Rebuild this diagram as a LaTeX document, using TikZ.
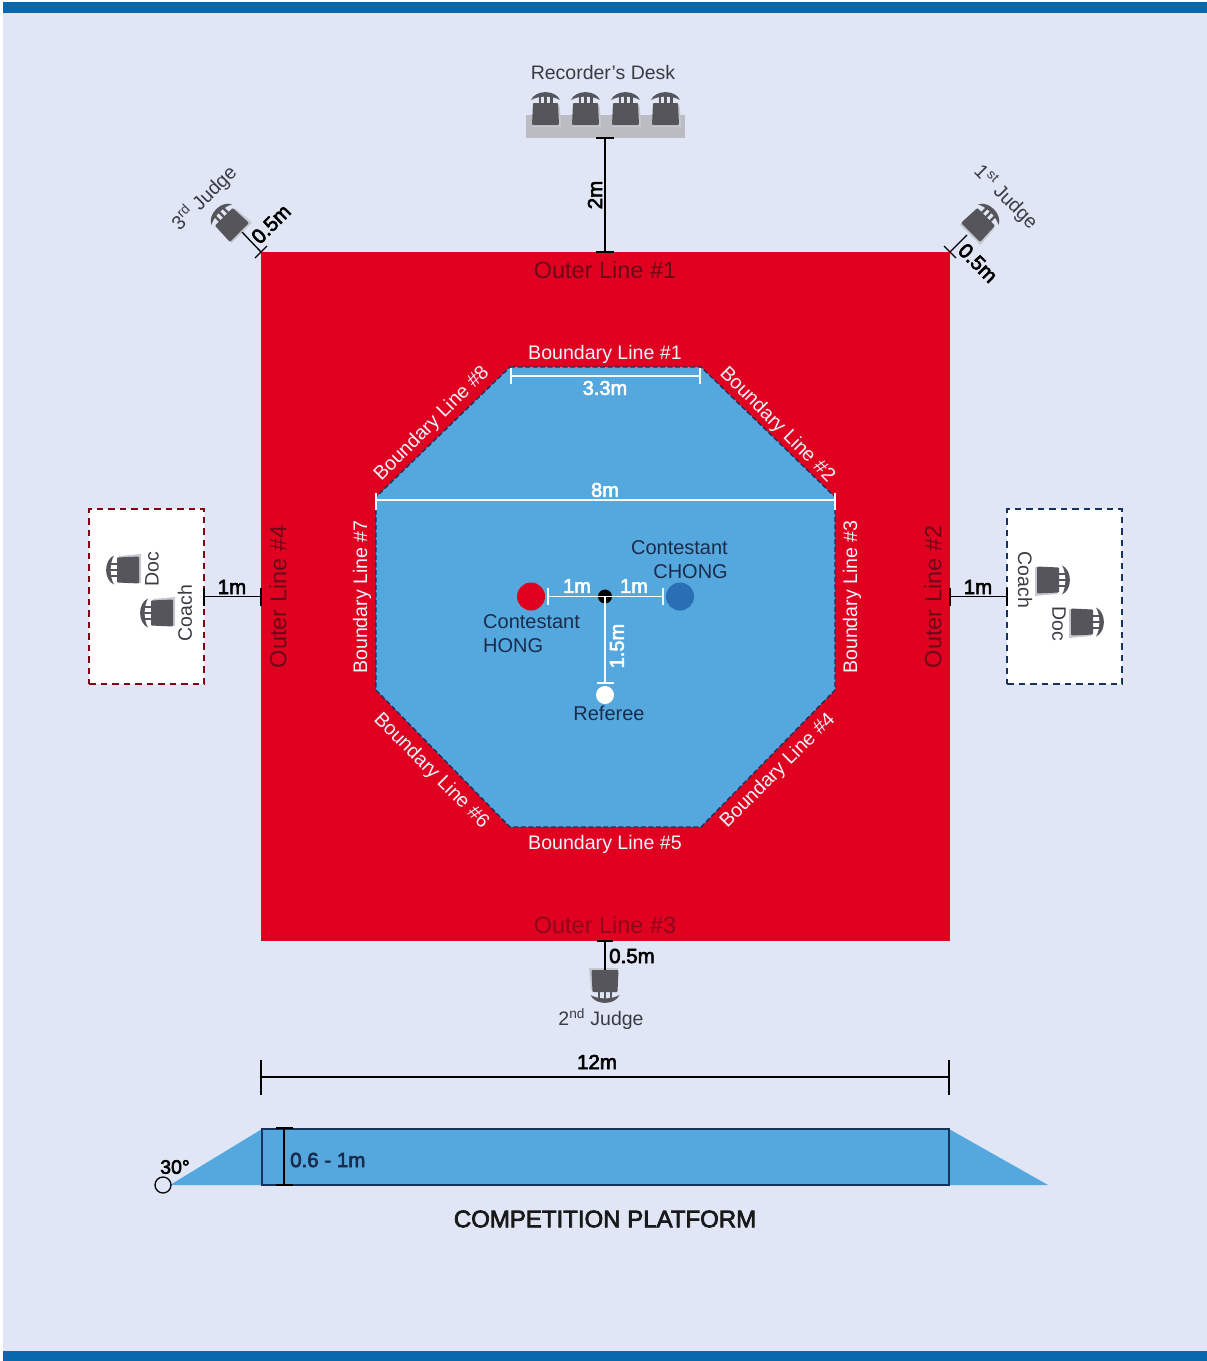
\documentclass[tikz,border=0pt]{standalone}
\usepackage{fontspec}
\setmainfont{Liberation Sans}
\newfontfamily\medf{Liberation Sans}[FakeBold=3]
\definecolor{bgc}{HTML}{E0E6F5}
\definecolor{barc}{HTML}{0868AE}
\definecolor{redc}{HTML}{E00020}
\definecolor{bluec}{HTML}{55A8DE}
\definecolor{navy}{HTML}{15335F}
\definecolor{inktxt}{HTML}{1B2B4B}
\definecolor{chairc}{HTML}{55555B}
\definecolor{greytxt}{HTML}{3A3A42}
\definecolor{outertxt}{HTML}{6A0A18}
\definecolor{deskc}{HTML}{BBBCC2}
\definecolor{contblue}{HTML}{2A6FB5}
\tikzset{
  x=1pt,y=-1pt,
  lbl/.style={inner sep=0pt,font=\fontsize{19.5}{24}\selectfont,text=greytxt,align=left},
  dimtxt/.style={inner sep=0pt,font=\fontsize{20.5}{24}\medf\selectfont,text=black},
  dimwhite/.style={inner sep=0pt,font=\fontsize{20}{24}\medf\selectfont,text=white},
  blbl/.style={inner sep=0pt,font=\fontsize{19.6}{24}\selectfont,text=white!88!bluec},
  outerlbl/.style={inner sep=0pt,font=\fontsize{23.5}{28}\selectfont,text=outertxt},
  ink/.style={inner sep=0pt,font=\fontsize{20}{24}\selectfont,text=inktxt,align=left},
  dimline/.style={draw=black,line width=1.6pt},
  whiteline/.style={draw=white!95!bluec,line width=1.6pt},
}
\newcommand{\chairpic}[3]{%
  \begin{scope}[shift={(#1,#2)},rotate=#3]
    \fill[deskc!70!bgc] (-12,-3) -- (14,-3) -- (16,19) -- (-13,19) -- cycle;
    \fill[chairc] (-14.5,-8) .. controls (-10,-18.5) and (10,-18.5) .. (14.5,-8) .. controls (7,-12.5) and (-7,-12.5) .. (-14.5,-8) -- cycle;
    \fill[chairc] (-7,-12) rectangle (-4.6,-3);
    \fill[chairc] (-1.2,-12) rectangle (1.2,-3);
    \fill[chairc] (4.6,-12) rectangle (7,-3);
    \fill[chairc,rounded corners=1pt] (-12.5,-5) -- (12.5,-5) -- (13.5,17) -- (-13.5,17) -- cycle;
  \end{scope}}
\begin{document}
\begin{tikzpicture}
\useasboundingbox (0,0) rectangle (1207,1361);
\fill[white] (0,0) rectangle (1207,1361);
\fill[bgc] (3,2) rectangle (1207,1361);
\fill[barc] (3,2) rectangle (1207,13);
\fill[barc] (3,1351) rectangle (1207,1361);

% Platform from above
\node[draw=none,fill=redc,minimum width=689pt,minimum height=689pt,inner sep=0pt,outer sep=0pt] (square) at (605.5,596.5) {};
\fill[bluec] (510,367) coordinate (o1) -- (701,367) coordinate (o2) -- (835,497) coordinate (o3) -- (835,690) coordinate (o4) -- (701,827) coordinate (o5) -- (510,827) coordinate (o6) -- (376,690) coordinate (o7) -- (376,497) coordinate (o8) -- cycle;
\draw[navy,line width=1.3pt,dash pattern=on 5pt off 2.5pt] (o1) -- (o2) -- (o3) -- (o4) -- (o5) -- (o6) -- (o7) -- (o8) -- cycle;

% Outer labels
\node[outerlbl] (ol1) at (605,270) {Outer Line \#1};
\node[outerlbl,rotate=90] (ol2) at (933,597) {Outer Line \#2};
\node[outerlbl,text=outertxt!70!redc] (ol3) at (605,925) {Outer Line \#3};
\node[outerlbl,rotate=90] (ol4) at (278,597) {Outer Line \#4};

% Boundary labels
\node[blbl] (b1) at (605,354) {Boundary Line \#1};
\node[blbl,rotate=-45] (b2) at (777,425) {Boundary Line \#2};
\node[blbl,rotate=90] (b3) at (852,597) {Boundary Line \#3};
\node[blbl,rotate=45] (b4) at (778,771) {Boundary Line \#4};
\node[blbl] (b5) at (605,844) {Boundary Line \#5};
\node[blbl,rotate=-45] (b6) at (431,771) {Boundary Line \#6};
\node[blbl,rotate=90] (b7) at (362,597) {Boundary Line \#7};
\node[blbl,rotate=45] (b8) at (432,424) {Boundary Line \#8};

% 3.3m and 8m
\draw[whiteline] (511,376) coordinate (a1) -- (700,376) coordinate (a2);
\draw[whiteline] (511,368) -- (511,384);
\draw[whiteline] (700,368) -- (700,384);
\node[dimwhite] (d33) at (605,388) {3.3m};
\draw[whiteline] (376,500) coordinate (a3) -- (835,500) coordinate (a4);
\draw[whiteline] (376,493) -- (376,510);
\draw[whiteline] (835,493) -- (835,510);
\node[dimwhite] (d8) at (605,490) {8m};

% Contestants
\node[circle,fill=redc,minimum size=28pt,inner sep=0pt] (hong) at (531,596.5) {};
\node[circle,fill=contblue,minimum size=28pt,inner sep=0pt] (chong) at (680,596.5) {};
\node[circle,fill=white,minimum size=18pt,inner sep=0pt] (ref) at (605,695) {};
\node[circle,fill=black,minimum size=14pt,inner sep=0pt] (centre) at (605,596.5) {};
\coordinate (hl) at (548,596.5);
\coordinate (cl) at (663,596.5);
\coordinate (rl) at (605,683);
\draw[whiteline] (hl) -- (cl);
\draw[whiteline] (548,588) -- (548,605);
\draw[whiteline] (663,588) -- (663,605);
\draw[whiteline] (centre.center) -- (rl);
\draw[whiteline] (597,683) -- (614,683);
\node[dimwhite] (d1a) at (577,586) {1m};
\node[dimwhite] (d1b) at (634,586) {1m};
\node[dimwhite,rotate=90] (d15) at (617,646) {1.5m};
\node[ink,anchor=north west] (thong) at (483,614.5) {Contestant\\[0pt]HONG};
\node[ink,anchor=north east,align=right] (tchong) at (728,540.5) {Contestant\\[0pt]CHONG};
\node[ink] (tref) at (609,713) {Referee};

% Recorder's desk
\node[lbl] (rec) at (603,73) {Recorder's Desk};
\node[fill=deskc,minimum width=159pt,minimum height=23pt,inner sep=0pt,outer sep=0pt] (desk) at (605.5,126) {};
\chairpic{545.5}{108}{0}
\chairpic{585.5}{108}{0}
\chairpic{625.5}{108}{0}
\chairpic{665.5}{108}{0}
\coordinate (desktop) at (605,138);
\coordinate (sqtop) at (605,252);
\draw[dimline] (desktop) -- (sqtop);
\draw[dimline] (596,138) -- (614,138);
\draw[dimline] (596,252) -- (614,252);
\node[dimtxt,rotate=90] (d2m) at (595,195) {2m};

% 3rd judge
\chairpic{227.4}{220.4}{45}
\coordinate (j3) at (242,232);
\coordinate (c3) at (261,252);
\draw[dimline,line width=1.3pt] (j3) -- (c3);
\draw[dimline,line width=1.3pt] (255,258) -- (267,246);
\node[dimtxt,rotate=45] (d3) at (271,224) {0.5m};
\node[lbl,rotate=45] (t3) at (204,198) {3\textsuperscript{rd} Judge};

% 1st judge
\chairpic{982.6}{220.4}{-45}
\coordinate (j1) at (967,235);
\coordinate (c1) at (950,252);
\draw[dimline,line width=1.3pt] (j1) -- (c1);
\draw[dimline,line width=1.3pt] (944,246) -- (956,258);
\node[dimtxt,rotate=-45] (d1) at (978,263) {0.5m};
\node[lbl,rotate=-45] (t1) at (1006,197) {1\textsuperscript{st} Judge};

% 2nd judge
\chairpic{605}{987}{180}
\coordinate (j2) at (605,970);
\coordinate (c2) at (605,941);
\draw[dimline,line width=1.3pt] (c2) -- (j2);
\draw[dimline,line width=1.3pt] (597,941) -- (613,941);
\node[dimtxt] (d05) at (632,956) {0.5m};
\node[lbl] (t2) at (601,1019) {2\textsuperscript{nd} Judge};

% Left box
\node[draw=redc!60!black,fill=white,line width=1.4pt,dash pattern=on 6.5pt off 5pt,minimum width=115pt,minimum height=175pt,inner sep=0pt,outer sep=0pt] (lbox) at (146.5,596.5) {};
\chairpic{122}{570}{90}
\chairpic{156}{613}{90}
\node[lbl,rotate=90] (tdocl) at (152,569) {Doc};
\node[lbl,rotate=90] (tcoachl) at (185,613) {Coach};
\draw[dimline] (lbox.east) -- (square.west);
\draw[dimline] (lbox.east) ++(0,-9) -- ++(0,18);
\draw[dimline] (square.west) ++(0,-9) -- ++(0,18);
\node[dimtxt] (d1l) at (232,587) {1m};

% Right box
\node[draw=navy,fill=white,line width=1.4pt,dash pattern=on 6.5pt off 5pt,minimum width=115pt,minimum height=175pt,inner sep=0pt,outer sep=0pt] (rbox) at (1064.5,596.5) {};
\chairpic{1054}{580}{-90}
\chairpic{1088}{622}{-90}
\node[lbl,rotate=-90] (tcoachr) at (1025,580) {Coach};
\node[lbl,rotate=-90] (tdocr) at (1059,624) {Doc};
\draw[dimline] (square.east) -- (rbox.west);
\draw[dimline] (rbox.west) ++(0,-9) -- ++(0,18);
\draw[dimline] (square.east) ++(0,-9) -- ++(0,18);
\node[dimtxt] (d1r) at (978,587) {1m};

% 12m
\coordinate (w1) at (261,1077);
\coordinate (w2) at (949,1077);
\draw[dimline] (w1) -- (w2);
\draw[dimline] (261,1060) -- (261,1095);
\draw[dimline] (949,1060) -- (949,1095);
\node[dimtxt] (d12) at (597,1062) {12m};

% Side view
\fill[bluec] (170,1185) -- (262,1129) -- (949,1129) -- (1048,1185) -- cycle;
\node[draw=navy,line width=1.4pt,minimum width=687pt,minimum height=56pt,inner sep=0pt,outer sep=0pt] (plat) at (605.5,1157) {};
\coordinate (h1) at (284,1128);
\coordinate (h2) at (284,1185);
\draw[black,line width=1.6pt] (h1) -- (h2);
\draw[black,line width=2pt] (276,1128) -- (293,1128);
\draw[black,line width=2pt] (276,1185) -- (293,1185);
\node[inner sep=0pt,anchor=west,font=\fontsize{20.5}{24}\medf\selectfont,text=inktxt] (h06) at (290,1160) {0.6 - 1m};
\node[circle,draw=black,line width=1.3pt,minimum size=16pt,inner sep=0pt] (ang) at (163,1185) {};
\node[inner sep=0pt,font=\fontsize{19.5}{24}\medf\selectfont,text=black] (t30) at (175,1167) {30°};
\node[inner sep=0pt,font=\fontsize{24}{28}\medf\selectfont,text=black!90] (title) at (605,1219) {COMPETITION PLATFORM};
\end{tikzpicture}
\end{document}
